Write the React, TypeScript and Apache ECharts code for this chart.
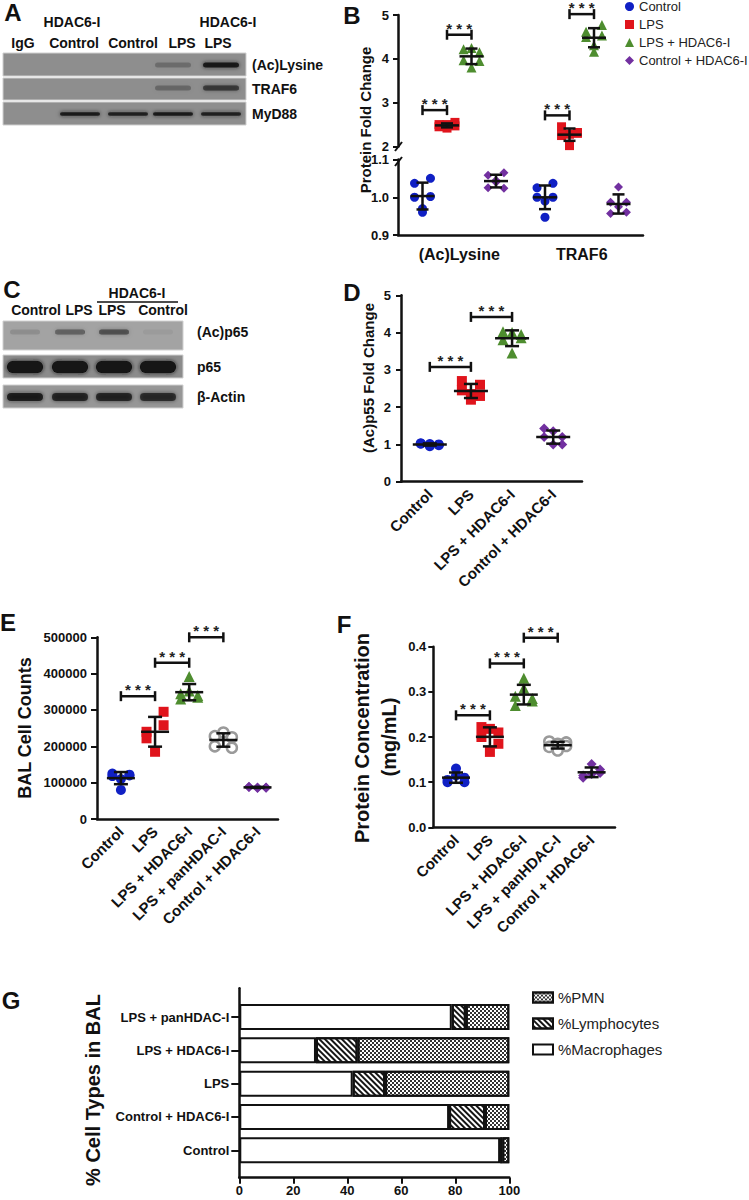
import React, { useEffect, useRef } from 'react';
import * as echarts from 'echarts';

const FONT = 'Arial, "Liberation Sans", Helvetica, sans-serif';
const INK = '#111111';
const BLUE = '#1020c4';
const RED = '#e0141c';
const GREEN = '#4e8d2f';
const PURPLE = '#7230a0';
const GRAY = '#9a9a9a';

// ---------- Panel A (western blot) ----------
const A_LANES = ['IgG', 'Control', 'Control', 'LPS', 'LPS'];
const A_ROWS = ['(Ac)Lysine', 'TRAF6', 'MyD88'];
const A_ACLYSINE = [0, 0, 0, 0.22, 0.85];
const A_TRAF6 = [0, 0, 0, 0.25, 0.6];
const A_MYD88 = [0, 0.85, 0.8, 0.85, 0.8];

// ---------- Panel C (western blot) ----------
const C_LANES = ['Control', 'LPS', 'LPS', 'Control'];
const C_ROWS = ['(Ac)p65', 'p65', 'β-Actin'];
const C_ACP65 = [0.12, 0.4, 0.5, 0.05];
const C_P65 = [1, 1, 1, 1];
const C_ACTIN = [0.8, 0.75, 0.75, 0.7];

// ---------- Panel B ----------
const B_CATEGORIES = ['(Ac)Lysine', 'TRAF6'];
const B_GROUPS = ['Control', 'LPS', 'LPS + HDAC6-I', 'Control + HDAC6-I'];
const B_CONTROL = [[1.037, 1.05, 1.0, 1.002, 0.97, 0.96], [1.025, 1.037, 1.0, 1.0, 0.99, 0.947]];
const B_LPS = [[2.5, 2.55, 2.45, 2.47, 2.42, 2.5], [2.45, 2.3, 2.25, 2.32, 2.28, 2.02]];
const B_LPS_HDAC = [[4.22, 4.15, 3.97, 3.95, 4.25, 3.8], [4.62, 4.77, 4.5, 4.53, 4.31, 4.16]];
const B_CTRL_HDAC = [[1.058, 1.065, 1.025, 1.024, 1.045, 1.04], [0.957, 0.96, 0.987, 0.987, 1.027, 0.975]];
const B_SIG_CTRL_LPS = [2.83, 2.71];
const B_SIG_LPS_HDAC = [4.55, 5.02];

// ---------- Panel D ----------
const D_CATEGORIES = ['Control', 'LPS', 'LPS + HDAC6-I', 'Control + HDAC6-I'];
const D_VALUES = [
  [1.02, 1.0, 1.03, 0.98, 0.95, 1.01],
  [2.7, 2.6, 2.45, 2.3, 2.35, 2.2],
  [4.02, 3.86, 3.81, 3.95, 4.0, 3.45],
  [1.43, 1.0, 1.2, 1.2, 1.35, 1.0],
];
const D_SIG = [[0, 1, 3.08], [1, 2, 4.42]];

// ---------- Panel E ----------
const E_CATEGORIES = ['Control', 'LPS', 'LPS + HDAC6-I', 'LPS + panHDAC-I', 'Control + HDAC6-I'];
const E_VALUES = [
  [125000, 122000, 118000, 120000, 110000, 80000],
  [240000, 295000, 222000, 258000, 185000],
  [345000, 335000, 330000, 340000, 392000, 352000],
  [228000, 225000, 200000, 196000, 238000],
  [88000, 87000, 89000, 86000, 85000, 87000],
];
const E_SIG = [[0, 1, 338000], [1, 2, 430000], [2, 3, 500000]];

// ---------- Panel F ----------
const F_CATEGORIES = E_CATEGORIES;
const F_VALUES = [
  [0.105, 0.11, 0.1, 0.1, 0.13, 0.115],
  [0.222, 0.21, 0.2, 0.185, 0.218, 0.167],
  [0.29, 0.28, 0.27, 0.285, 0.33, 0.308],
  [0.19, 0.188, 0.178, 0.18, 0.185, 0.17],
  [0.115, 0.128, 0.11, 0.12, 0.14, 0.118],
];
const F_SIG = [[0, 1, 0.248], [1, 2, 0.363], [2, 3, 0.42]];

// ---------- Panel G ----------
const G_CATEGORIES = ['Control', 'Control + HDAC6-I', 'LPS', 'LPS + HDAC6-I', 'LPS + panHDAC-I'];
const G_MACROPHAGES = [96.6, 77.7, 42.0, 28.4, 78.7];
const G_LYMPHOCYTES = [0.8, 13.3, 12.0, 15.4, 5.2];
const G_PMN = [2.6, 9.0, 46.0, 56.2, 16.1];
const G_TICKS = [0, 20, 40, 60, 80, 100];

// ---------- styles ----------
type GS = { color: string; symbol: string; hollow?: boolean; size: number };
const S_CONTROL: GS = { color: BLUE, symbol: 'circle', size: 10 };
const S_LPS: GS = { color: RED, symbol: 'rect', size: 10 };
const S_LPSH: GS = { color: GREEN, symbol: 'triangle', size: 11 };
const S_PAN: GS = { color: GRAY, symbol: 'circle', hollow: true, size: 10 };
const S_CH: GS = { color: PURPLE, symbol: 'diamond', size: 10 };
const JIT = [-1, 1, -1, 1, 0, 0];

function meanSd(a: number[]) {
  const m = a.reduce((s, v) => s + v, 0) / a.length;
  const sd = Math.sqrt(a.reduce((s, v) => s + (v - m) * (v - m), 0) / (a.length - 1));
  return [m, sd];
}

function scatter(name: string, xi: number, yi: number, pts: number[][], st: GS) {
  return {
    type: 'scatter', name, xAxisIndex: xi, yAxisIndex: yi, symbol: st.symbol,
    symbolSize: st.size, data: pts, z: 2, silent: true,
    itemStyle: st.hollow ? { color: '#ffffff', borderColor: st.color, borderWidth: 2.5, opacity: 1 } : { color: st.color, opacity: 1 },
  };
}

function errbars(name: string, xi: number, yi: number, rows: number[][], half: number, cap: number) {
  return {
    type: 'custom', name, xAxisIndex: xi, yAxisIndex: yi, z: 5, silent: true,
    encode: { x: 0, y: 1 }, data: rows,
    renderItem: (_p: any, api: any) => {
      const x = api.value(0), m = api.value(1), s = api.value(2);
      const pm = api.coord([x, m]);
      const pt = api.coord([x, m + s]);
      const pb = api.coord([x, m - s]);
      const st = { stroke: INK, lineWidth: 2.5, fill: 'none' };
      return {
        type: 'group', children: [
          { type: 'line', shape: { x1: pm[0] - half, y1: pm[1], x2: pm[0] + half, y2: pm[1] }, style: st },
          { type: 'line', shape: { x1: pt[0], y1: pt[1], x2: pb[0], y2: pb[1] }, style: st },
          { type: 'line', shape: { x1: pt[0] - cap, y1: pt[1], x2: pt[0] + cap, y2: pt[1] }, style: st },
          { type: 'line', shape: { x1: pb[0] - cap, y1: pb[1], x2: pb[0] + cap, y2: pb[1] }, style: st },
        ],
      };
    },
  };
}

function brackets(name: string, xi: number, yi: number, rows: number[][]) {
  return {
    type: 'custom', name, xAxisIndex: xi, yAxisIndex: yi, z: 5, silent: true, clip: false,
    encode: { x: [0, 1], y: 2 }, data: rows,
    renderItem: (_p: any, api: any) => {
      const a = api.coord([api.value(0), api.value(2)]);
      const b = api.coord([api.value(1), api.value(2)]);
      const st = { stroke: INK, lineWidth: 2.5, fill: 'none' };
      return {
        type: 'group', children: [
          { type: 'line', shape: { x1: a[0], y1: a[1], x2: b[0], y2: b[1] }, style: st },
          { type: 'line', shape: { x1: a[0], y1: a[1] - 5, x2: a[0], y2: a[1] + 5 }, style: st },
          { type: 'line', shape: { x1: b[0], y1: b[1] - 5, x2: b[0], y2: b[1] + 5 }, style: st },
          {
            type: 'text', x: (a[0] + b[0]) / 2, y: a[1] + 1,
            style: { text: '* * *', fontSize: 15, fontWeight: 'bold', fill: '#222', align: 'center', verticalAlign: 'bottom', fontFamily: FONT },
          },
        ],
      };
    },
  };
}

function groupPanel(prefix: string, xi: number, yi: number, values: number[][], styles: GS[], jit: number, half: number, cap: number, sig: number[][]) {
  const out: any[] = [];
  const err: number[][] = [];
  values.forEach((vals, c) => {
    const pts = vals.map((v, i) => [c + JIT[i % JIT.length] * jit, v]);
    out.push(scatter(prefix + ':' + c, xi, yi, pts, styles[c]));
    const [m, sd] = meanSd(vals);
    err.push([c, m, sd]);
  });
  out.push(errbars(prefix + ':err', xi, yi, err, half, cap));
  out.push(brackets(prefix + ':sig', xi, yi, sig));
  return out;
}

const axisLine = { show: true, onZero: false, lineStyle: { color: INK, width: 2.5 } };
const tickLbl = (extra: any = {}) => ({ color: INK, fontSize: 13, fontWeight: 'bold', fontFamily: FONT, ...extra });

function buildOption() {
  const series: any[] = [];

  // ----- Panel B -----
  const bSub = (c: number, g: number) => c + (g - 1.5) * 0.2;
  const bDefs = [
    { data: B_CONTROL, st: { ...S_CONTROL, size: 9 }, top: false },
    { data: B_LPS, st: { ...S_LPS, size: 9 }, top: true },
    { data: B_LPS_HDAC, st: { ...S_LPSH, size: 10 }, top: true },
    { data: B_CTRL_HDAC, st: { ...S_CH, size: 9 }, top: false },
  ];
  const bErrTop: number[][] = [];
  const bErrBot: number[][] = [];
  bDefs.forEach((d, g) => {
    const pts: number[][] = [];
    d.data.forEach((vals, c) => {
      vals.forEach((v, i) => pts.push([bSub(c, g) + JIT[i] * 0.065, v]));
      const [m, sd] = meanSd(vals);
      (d.top ? bErrTop : bErrBot).push([bSub(c, g), m, sd]);
    });
    series.push(scatter(B_GROUPS[g], d.top ? 0 : 1, d.top ? 0 : 1, pts, d.st));
  });
  series.push(errbars('B:errTop', 0, 0, bErrTop, 12, 6));
  series.push(errbars('B:errBot', 1, 1, bErrBot, 12, 6));
  const bSig: number[][] = [];
  B_CATEGORIES.forEach((_c, c) => {
    bSig.push([bSub(c, 0), bSub(c, 1), B_SIG_CTRL_LPS[c]]);
    bSig.push([bSub(c, 1), bSub(c, 2), B_SIG_LPS_HDAC[c]]);
  });
  series.push(brackets('B:sig', 0, 0, bSig));

  // ----- Panel D, E, F -----
  series.push(...groupPanel('D', 2, 2, D_VALUES, [S_CONTROL, S_LPS, S_LPSH, S_CH], 0.22, 17, 7, D_SIG));
  series.push(...groupPanel('E', 3, 3, E_VALUES, [S_CONTROL, S_LPS, S_LPSH, S_PAN, S_CH], 0.25, 14, 7, E_SIG));
  series.push(...groupPanel('F', 4, 4, F_VALUES, [S_CONTROL, S_LPS, S_LPSH, S_PAN, S_CH], 0.25, 14, 7, F_SIG));

  // ----- Panel G -----
  const barBase = { type: 'bar', stack: 'g', xAxisIndex: 6, yAxisIndex: 6, barWidth: 26, silent: true };
  series.push({ ...barBase, name: '%Macrophages', data: G_MACROPHAGES, itemStyle: { color: '#ffffff', borderColor: INK, borderWidth: 2 } });
  series.push({
    ...barBase, name: '%Lymphocytes', data: G_LYMPHOCYTES,
    itemStyle: {
      color: '#ffffff', borderColor: INK, borderWidth: 2,
      decal: { symbol: 'rect', symbolSize: 1, color: '#151515', dashArrayX: [1, 0], dashArrayY: [2, 1.6], rotation: Math.PI / 4 },
    },
  });
  series.push({
    ...barBase, name: '%PMN', data: G_PMN,
    itemStyle: {
      color: '#ffffff', borderColor: INK, borderWidth: 2,
      decal: { symbol: 'rect', symbolSize: 1, color: '#333333', dashArrayX: [[2, 2], [0, 2, 2, 0]], dashArrayY: [2, 0], rotation: 0 },
    },
  });

  // ----- graphics -----
  const g: any[] = [];
  const txt = (x: number, y: number, text: string, size: number, extra: any = {}, rot = 0) => ({
    type: 'text', x, y, rotation: rot,
    style: { text, fontSize: size, fontWeight: 'bold', fontFamily: FONT, fill: INK, align: 'center', verticalAlign: 'middle', ...extra },
  });
  const band = (cx: number, cy: number, w: number, h: number, v: number) => ({
    type: 'rect', shape: { x: cx - w / 2, y: cy - h / 2, width: w, height: h, r: h / 2 },
    style: { fill: `rgba(18,18,18,${v})`, shadowBlur: 4, shadowColor: `rgba(18,18,18,${v})` },
  });

  // panel letters
  [['A', 13, 12], ['B', 352, 15], ['C', 12, 289], ['D', 352, 292], ['E', 8, 622], ['F', 344, 624], ['G', 11, 1000]].forEach(([t, x, y]) =>
    g.push(txt(x as number, y as number, t as string, 24)));

  // Panel A blot
  const A_ROW_Y = [[53, 76], [78, 100], [102, 125]];
  const A_BAND_X = [25, 80, 128, 173, 221];
  const A_BAND = [{ w: 36, h: 5, y: 65 }, { w: 36, h: 5, y: 88 }, { w: 40, h: 3.5, y: 114 }];
  const A_LANE_TX = [23, 74, 133, 182, 218];
  A_LANES.forEach((l, i) => g.push(txt(A_LANE_TX[i], 43, l, 14)));
  g.push(txt(72, 22, 'HDAC6-I', 14));
  g.push(txt(228, 22, 'HDAC6-I', 14));
  [A_ACLYSINE, A_TRAF6, A_MYD88].forEach((row, r) => {
    g.push({ type: 'rect', shape: { x: 3, y: A_ROW_Y[r][0], width: 243, height: A_ROW_Y[r][1] - A_ROW_Y[r][0] }, style: { fill: '#8e8e8e', stroke: '#cfcfcf', lineWidth: 1 } });
    row.forEach((v, i) => { if (v > 0) g.push(band(A_BAND_X[i], A_BAND[r].y, A_BAND[r].w, A_BAND[r].h, v)); });
    g.push(txt(252, (A_ROW_Y[r][0] + A_ROW_Y[r][1]) / 2, A_ROWS[r], 14, { align: 'left' }));
  });

  // Panel C blot
  const C_ROW_Y = [[321, 350], [355, 378], [385, 408]];
  const C_BG = ['#a3a3a3', '#8c8c8c', '#979797'];
  const C_BAND_X = [25, 70, 114, 158];
  const C_BAND = [{ w: 30, h: 5, y: 332 }, { w: 36, h: 12, y: 367 }, { w: 36, h: 8, y: 397 }];
  const C_LANE_TX = [36, 79, 112, 163];
  C_LANES.forEach((l, i) => g.push(txt(C_LANE_TX[i], 310, l, 14)));
  g.push(txt(137, 293, 'HDAC6-I', 14));
  g.push({ type: 'line', shape: { x1: 97, y1: 302, x2: 178, y2: 302 }, style: { stroke: INK, lineWidth: 1.5 } });
  [C_ACP65, C_P65, C_ACTIN].forEach((row, r) => {
    g.push({ type: 'rect', shape: { x: 3, y: C_ROW_Y[r][0], width: 180, height: C_ROW_Y[r][1] - C_ROW_Y[r][0] }, style: { fill: C_BG[r], stroke: '#d0d0d0', lineWidth: 1 } });
    row.forEach((v, i) => { if (v > 0) g.push(band(C_BAND_X[i], C_BAND[r].y, C_BAND[r].w, C_BAND[r].h, v)); });
    g.push(txt(197, C_BAND[r].y, C_ROWS[r], 14, { align: 'left' }));
  });

  // axis titles
  g.push(txt(365, 120, 'Protein Fold Change', 15, {}, Math.PI / 2));
  g.push(txt(368, 378, '(Ac)p55 Fold Change', 15, {}, Math.PI / 2));
  g.push(txt(25, 728, 'BAL Cell Counts', 18, {}, Math.PI / 2));
  g.push(txt(362, 738, 'Protein Concentration', 20, {}, Math.PI / 2));
  g.push(txt(389, 737, '(mg/mL)', 20, {}, Math.PI / 2));
  g.push(txt(93, 1090, '% Cell Types in BAL', 20, {}, Math.PI / 2));

  // axis break marks on panel B
  g.push({ type: 'line', shape: { x1: 395, y1: 151, x2: 402, y2: 142 }, style: { stroke: INK, lineWidth: 2 } });
  g.push({ type: 'line', shape: { x1: 395, y1: 166, x2: 402, y2: 157 }, style: { stroke: INK, lineWidth: 2 } });

  const hidden = { show: false };
  const noSplit = { show: false };

  const option: any = {
    animation: false,
    backgroundColor: '#ffffff',
    textStyle: { fontFamily: FONT },
    grid: [
      { left: 398, top: 15, width: 245, height: 131.5, outerBoundsMode: 'none' },
      { left: 398, top: 159.5, width: 245, height: 75.5, outerBoundsMode: 'none' },
      { left: 401, top: 295.3, width: 181, height: 186.4, outerBoundsMode: 'none' },
      { left: 97, top: 637.3, width: 181, height: 181.7, outerBoundsMode: 'none' },
      { left: 433.3, top: 646.7, width: 181.7, height: 180.6, outerBoundsMode: 'none' },
      { left: 239.3, top: 988.3, width: 270, height: 189.4, outerBoundsMode: 'none' },
      { left: 239.3, top: 1000.35, width: 270, height: 166.6, outerBoundsMode: 'none' },
    ],
    xAxis: [
      { gridIndex: 0, type: 'value', min: -0.5, max: 1.5, show: false },
      {
        gridIndex: 1, type: 'value', min: -0.5, max: 1.5, axisLine, axisTick: hidden, splitLine: noSplit,
        axisLabel: tickLbl({ fontSize: 16, margin: 11, customValues: [0, 1], formatter: (v: number) => B_CATEGORIES[Math.round(v)] }),
      },
      {
        gridIndex: 2, type: 'value', min: -0.7, max: 3.7, axisLine, axisTick: hidden, splitLine: noSplit,
        axisLabel: tickLbl({ fontSize: 15, margin: 10, rotate: 45, customValues: [0, 1, 2, 3], formatter: (v: number) => D_CATEGORIES[Math.round(v)] }),
      },
      {
        gridIndex: 3, type: 'value', min: -0.7, max: 4.6, axisLine, axisTick: hidden, splitLine: noSplit,
        axisLabel: tickLbl({ fontSize: 15, margin: 10, rotate: 45, customValues: [0, 1, 2, 3, 4], formatter: (v: number) => E_CATEGORIES[Math.round(v)] }),
      },
      {
        gridIndex: 4, type: 'value', min: -0.67, max: 4.69, axisLine, axisTick: hidden, splitLine: noSplit,
        axisLabel: tickLbl({ fontSize: 15, margin: 10, rotate: 45, customValues: [0, 1, 2, 3, 4], formatter: (v: number) => F_CATEGORIES[Math.round(v)] }),
      },
      {
        gridIndex: 5, type: 'value', min: 0, max: 100, interval: 20, axisLine, splitLine: noSplit,
        axisTick: { show: true, length: 6, lineStyle: { color: INK, width: 2 } },
        axisLabel: tickLbl({ margin: 6, customValues: G_TICKS }),
      },
      { gridIndex: 6, type: 'value', min: 0, max: 100, show: false },
    ],
    yAxis: [
      {
        gridIndex: 0, type: 'value', min: 2, max: 5, interval: 1, axisLine, splitLine: noSplit,
        axisTick: { show: true, length: 5, lineStyle: { color: INK, width: 2 } }, axisLabel: tickLbl({ margin: 9 }),
      },
      {
        gridIndex: 1, type: 'value', min: 0.9, max: 1.1, interval: 0.1, axisLine, splitLine: noSplit,
        axisTick: { show: true, length: 5, lineStyle: { color: INK, width: 2 } },
        axisLabel: tickLbl({ margin: 9, formatter: (v: number) => v.toFixed(1) }),
      },
      {
        gridIndex: 2, type: 'value', min: 0, max: 5, interval: 1, axisLine, splitLine: noSplit,
        axisTick: { show: true, length: 5, lineStyle: { color: INK, width: 2 } }, axisLabel: tickLbl({ margin: 10 }),
      },
      {
        gridIndex: 3, type: 'value', min: 0, max: 500000, interval: 100000, axisLine, splitLine: noSplit,
        axisTick: { show: true, length: 6, lineStyle: { color: INK, width: 2 } },
        axisLabel: tickLbl({ margin: 10, formatter: (v: number) => String(v) }),
      },
      {
        gridIndex: 4, type: 'value', min: 0, max: 0.4, interval: 0.1, axisLine, splitLine: noSplit,
        axisTick: { show: true, length: 5, lineStyle: { color: INK, width: 2 } },
        axisLabel: tickLbl({ margin: 7, formatter: (v: number) => v.toFixed(1) }),
      },
      { gridIndex: 5, type: 'value', min: 0, max: 1, axisLine, axisTick: hidden, axisLabel: hidden, splitLine: noSplit },
      {
        gridIndex: 6, type: 'category', data: G_CATEGORIES, axisLine: { show: false },
        axisTick: { show: true, alignWithLabel: true, length: 8, lineStyle: { color: INK, width: 2 } },
        axisLabel: tickLbl({ margin: 10 }),
      },
    ],
    legend: [
      {
        data: B_GROUPS, orient: 'vertical', left: 625, top: 0, padding: 0, itemWidth: 9, itemHeight: 9, itemGap: 5, itemTextGap: 4,
        selectedMode: false, textStyle: { fontSize: 13, color: '#222', fontFamily: FONT },
      },
      {
        data: ['%PMN', '%Lymphocytes', '%Macrophages'], orient: 'vertical', left: 532, top: 990, padding: 0, icon: 'rect',
        itemWidth: 20, itemHeight: 10, itemGap: 11, itemTextGap: 11, selectedMode: false,
        textStyle: { fontSize: 15, color: '#222', fontFamily: FONT },
      },
    ],
    series,
    graphic: g,
  };
  return option;
}

export default function App() {
  const ref = useRef<HTMLDivElement>(null);
  useEffect(() => {
    const chart = echarts.init(ref.current as HTMLDivElement, null, { renderer: 'svg' });
    chart.setOption(buildOption());
    return () => chart.dispose();
  }, []);
  return (
    <div
      ref={ref}
      style={{ position: 'absolute', left: 0, top: 0, width: 749, height: 1200, background: '#ffffff' }}
    />
  );
}
